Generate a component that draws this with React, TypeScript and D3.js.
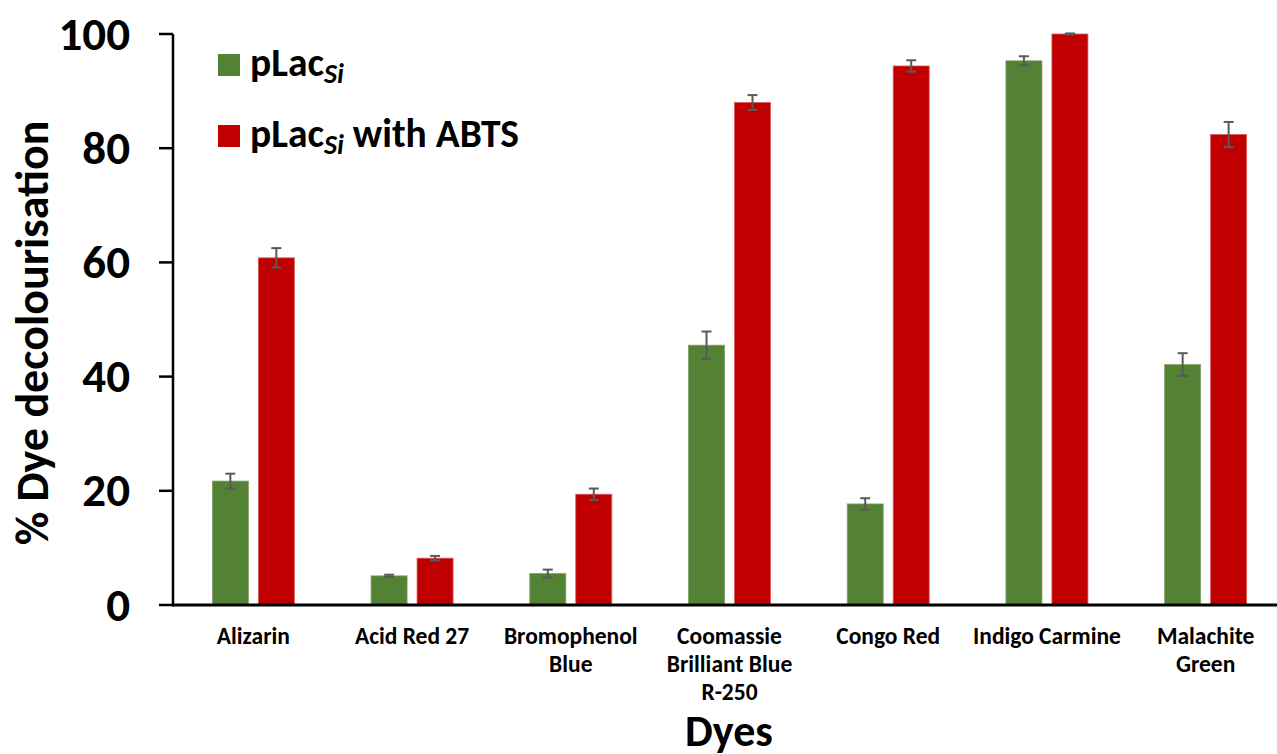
import React from "react";
import * as d3 from "d3";

// Dye names (line-broken as printed under the axis)
const dyes: string[][] = [
  ["Alizarin"],
  ["Acid Red 27"],
  ["Bromophenol", "Blue"],
  ["Coomassie", "Brilliant Blue", "R-250"],
  ["Congo Red"],
  ["Indigo Carmine"],
  ["Malachite", "Green"],
];

// % decolourisation, laccase alone
const lacMean = [21.7, 5.1, 5.5, 45.5, 17.7, 95.3, 42.1];
const lacErr = [1.3, 0.2, 0.7, 2.4, 1.0, 0.8, 2.0];

// % decolourisation, laccase + ABTS mediator
const abtsMean = [60.8, 8.2, 19.4, 88.0, 94.4, 100.0, 82.4];
const abtsErr = [1.7, 0.4, 1.0, 1.3, 1.0, 0.1, 2.2];

const yTicks = [0, 20, 40, 60, 80, 100];

const W = 1277;
const H = 754;
const FONT = "Carlito, Calibri, 'Liberation Sans Narrow', 'Open Sans', sans-serif";
const GREEN = "#548235";
const RED = "#C00000";

export default function App() {
  const keys = dyes.map((d) => d.join(" "));
  const x0 = d3.scaleBand<string>().domain(keys).range([174, 1285]).padding(0);
  const groupW = 82;
  const x1 = d3
    .scaleBand<string>()
    .domain(["lac", "abts"])
    .range([0, groupW])
    .paddingInner(0.217)
    .paddingOuter(0);
  const y = d3.scaleLinear().domain([0, 100]).range([605, 34]);

  const axisX = 173;
  const series = [
    { key: "lac", mean: lacMean, err: lacErr, color: GREEN, edge: "#7ea165" },
    { key: "abts", mean: abtsMean, err: abtsErr, color: RED, edge: "#d85c5c" },
  ];

  return (
    <svg
      width={W}
      height={H}
      style={{ position: "absolute", left: 0, top: 0, background: "#fff" }}
      fontFamily={FONT}
    >
      {/* bars + error bars */}
      {keys.map((k, i) => {
        const gx = (x0(k) as number) + (x0.bandwidth() - groupW) / 2;
        return (
          <g key={k}>
            {series.map((s) => {
              const bx = gx + (x1(s.key) as number);
              const bw = x1.bandwidth();
              const cx = bx + bw / 2;
              const v = s.mean[i];
              const e = s.err[i];
              return (
                <g key={s.key}>
                  <rect
                    x={bx}
                    y={y(v)}
                    width={bw}
                    height={y(0) - y(v)}
                    fill={s.color}
                    stroke={s.edge}
                    strokeWidth={0.8}
                  />
                  <line x1={cx} x2={cx} y1={y(v + e)} y2={y(v - e)} stroke="#595959" strokeWidth={2} />
                  <line x1={cx - 5} x2={cx + 5} y1={y(v + e)} y2={y(v + e)} stroke="#595959" strokeWidth={2} />
                  <line x1={cx - 5} x2={cx + 5} y1={y(v - e)} y2={y(v - e)} stroke="#595959" strokeWidth={2} />
                </g>
              );
            })}
          </g>
        );
      })}

      {/* axes */}
      <line x1={axisX} x2={W} y1={y(0)} y2={y(0)} stroke="#000" strokeWidth={3} />
      <line x1={axisX} x2={axisX} y1={y(100)} y2={y(0) + 1.5} stroke="#000" strokeWidth={2.5} />
      {yTicks.map((t) => (
        <g key={t}>
          <line x1={159} x2={axisX} y1={y(t)} y2={y(t)} stroke="#000" strokeWidth={2.5} />
          <text
            x={130}
            y={y(t)}
            dy="0.33em"
            textAnchor="end"
            fontSize={47}
            fontWeight="bold"
            fill="#000"
          >
            {t}
          </text>
        </g>
      ))}

      {/* category labels */}
      {keys.map((k, i) => {
        const cx = (x0(k) as number) + x0.bandwidth() / 2;
        return (
          <text key={k} textAnchor="middle" fontSize={23.5} fontWeight="bold" fill="#000">
            {dyes[i].map((line, j) => (
              <tspan key={j} x={cx} y={644 + j * 28}>
                {line}
              </tspan>
            ))}
          </text>
        );
      })}

      {/* axis titles */}
      <text
        transform={`translate(48, 333) rotate(-90)`}
        textAnchor="middle"
        fontSize={46}
        fontWeight="bold"
        fill="#000"
      >
        % Dye decolourisation
      </text>
      <text x={729} y={746} textAnchor="middle" fontSize={44} fontWeight="bold" fill="#000">
        Dyes
      </text>

      {/* legend */}
      <rect x={218} y={54} width={22} height={22} fill={GREEN} />
      <text x={250} y={76} fontSize={39.5} fontWeight="bold" fill="#000">
        pLac
        <tspan fontSize={28} fontStyle="italic" dy={7}>
          Si
        </tspan>
      </text>
      <rect x={218} y={125} width={22} height={22} fill={RED} />
      <text x={250} y={147} fontSize={39.5} fontWeight="bold" fill="#000">
        pLac
        <tspan fontSize={28} fontStyle="italic" dy={7}>
          Si
        </tspan>
        <tspan dy={-7}> with ABTS</tspan>
      </text>
    </svg>
  );
}
